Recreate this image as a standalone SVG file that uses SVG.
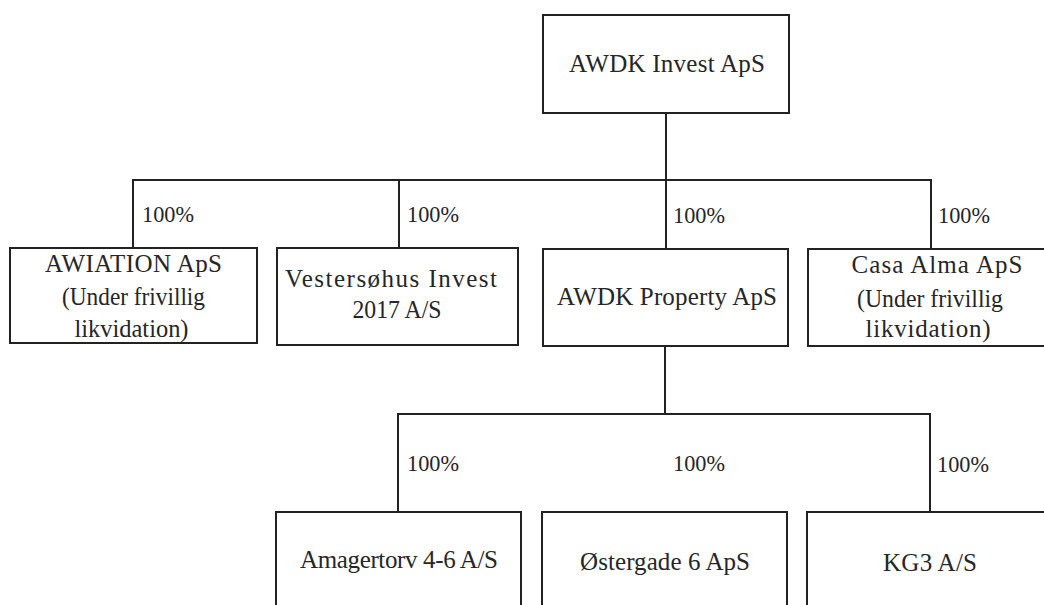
<svg xmlns="http://www.w3.org/2000/svg" width="1044" height="605" viewBox="0 0 1044 605">
<style>
.box{fill:#fff;stroke:#222;stroke-width:2}
.ln{fill:none;stroke:#222;stroke-width:2}
text{font-family:"Liberation Serif","Times New Roman",serif;font-size:25px;fill:#262626}
.c{text-anchor:middle}
.p{font-size:22.5px}
</style>
<rect width="1044" height="605" fill="#fff"/>
<g id="connectors">
<path class="ln" d="M666 113V180M133 247V180H931V248M399 180V248M666 180V249"/>
<path class="ln" d="M665 346V414M398 512V414H930V512"/>
</g>
<g id="labels">
<text class="p" x="142" y="222" textLength="52" lengthAdjust="spacingAndGlyphs">100%</text>
<text class="p" x="407" y="222" textLength="52" lengthAdjust="spacingAndGlyphs">100%</text>
<text class="p" x="673" y="223" textLength="52" lengthAdjust="spacingAndGlyphs">100%</text>
<text class="p" x="938" y="223" textLength="52" lengthAdjust="spacingAndGlyphs">100%</text>
<text class="p" x="407" y="471" textLength="52" lengthAdjust="spacingAndGlyphs">100%</text>
<text class="p" x="673" y="471" textLength="52" lengthAdjust="spacingAndGlyphs">100%</text>
<text class="p" x="937" y="472" textLength="52" lengthAdjust="spacingAndGlyphs">100%</text>
</g>
<g id="n-awdk-invest">
<rect class="box" x="543" y="15" width="246" height="98"/>
<text class="c" x="667" y="72" textLength="196" lengthAdjust="spacing">AWDK Invest ApS</text>
</g>
<g id="n-awiation">
<rect class="box" x="10" y="248" width="247" height="95"/>
<text class="c" x="133.5" y="272" textLength="177" lengthAdjust="spacing">AWIATION ApS</text>
<text class="c" x="133.5" y="305" textLength="143" lengthAdjust="spacingAndGlyphs">(Under frivillig</text>
<text class="c" x="131.5" y="337" textLength="114" lengthAdjust="spacingAndGlyphs">likvidation)</text>
</g>
<g id="n-vestersohus">
<rect class="box" x="277" y="248" width="241" height="97"/>
<text class="c" x="391" y="287" textLength="212" lengthAdjust="spacing">Vestersøhus Invest</text>
<text class="c" x="397" y="318" textLength="89" lengthAdjust="spacingAndGlyphs">2017 A/S</text>
</g>
<g id="n-awdk-property">
<rect class="box" x="543" y="249" width="245" height="97"/>
<text class="c" x="667" y="305" textLength="220" lengthAdjust="spacing">AWDK Property ApS</text>
</g>
<g id="n-casa-alma">
<rect class="box" x="808" y="249" width="250" height="97"/>
<text class="c" x="937" y="273" textLength="171" lengthAdjust="spacing">Casa Alma ApS</text>
<text class="c" x="930" y="307" textLength="146" lengthAdjust="spacingAndGlyphs">(Under frivillig</text>
<text class="c" x="928" y="337" textLength="125" lengthAdjust="spacing">likvidation)</text>
</g>
<g id="n-amagertorv">
<rect class="box" x="276" y="512" width="245" height="110"/>
<text class="c" x="399" y="568" textLength="198" lengthAdjust="spacing">Amagertorv 4-6 A/S</text>
</g>
<g id="n-ostergade">
<rect class="box" x="542" y="512" width="245" height="110"/>
<text class="c" x="665" y="570" textLength="170" lengthAdjust="spacing">Østergade 6 ApS</text>
</g>
<g id="n-kg3">
<rect class="box" x="807" y="512" width="250" height="110"/>
<text class="c" x="930" y="571" textLength="94" lengthAdjust="spacing">KG3 A/S</text>
</g>
</svg>
